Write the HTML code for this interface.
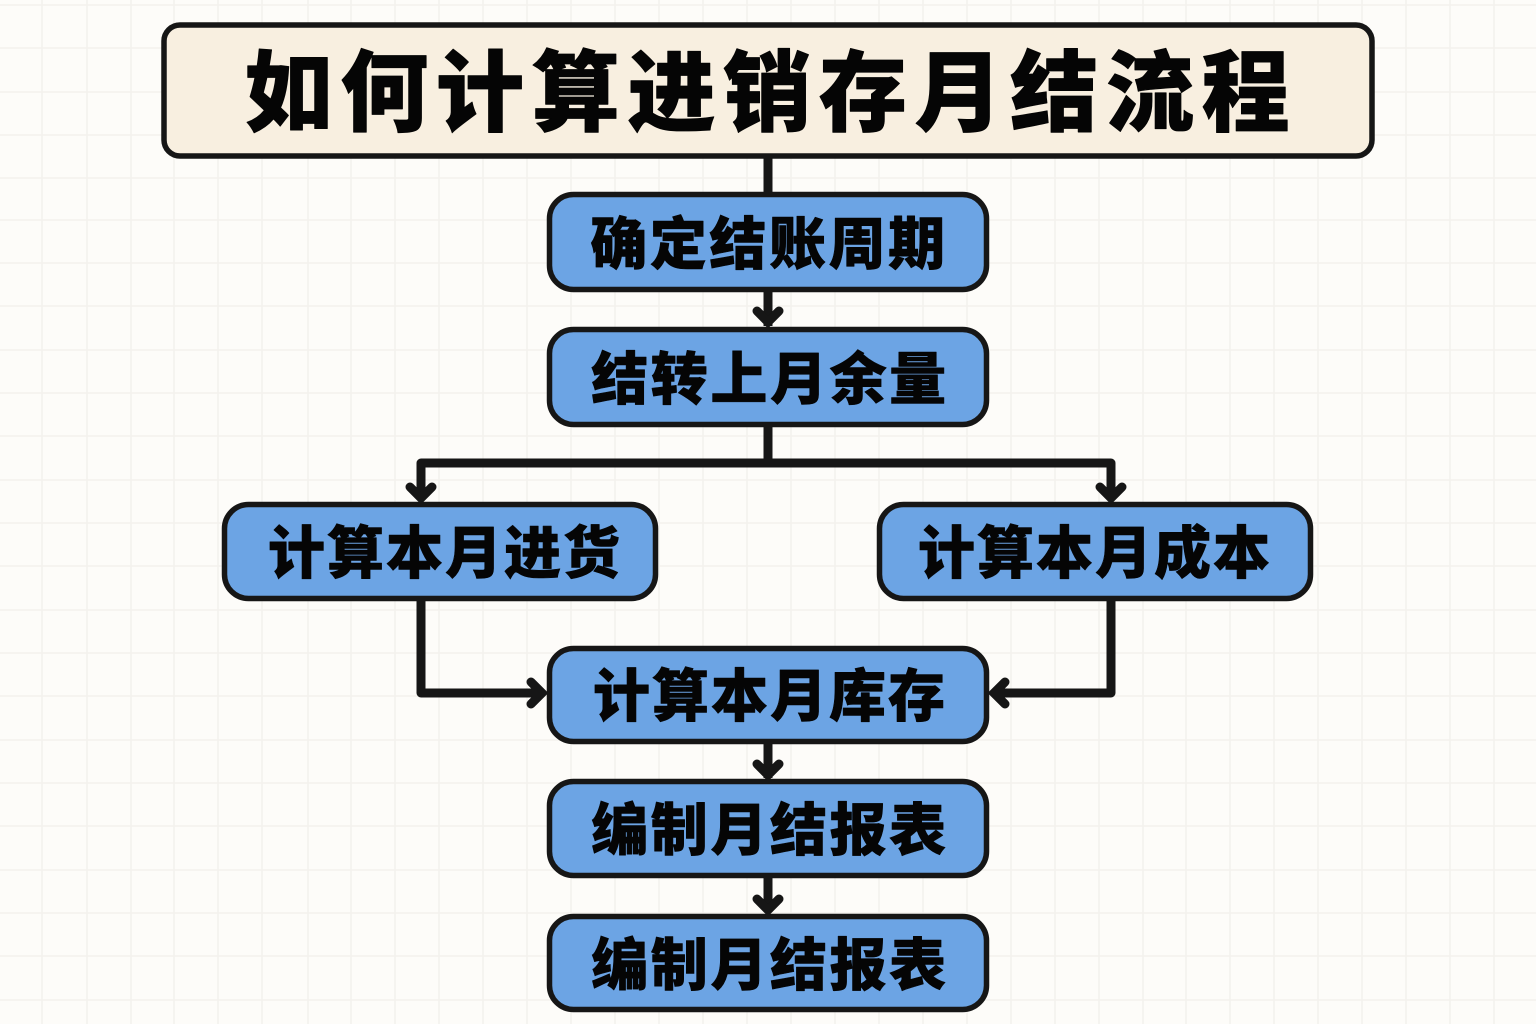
<!DOCTYPE html>
<html lang="zh"><head><meta charset="utf-8"><title>如何计算进销存月结流程</title>
<style>
html,body{margin:0;padding:0;width:1536px;height:1024px;overflow:hidden;background:#fdfcf9}
svg{display:block}
text{font-family:"Liberation Sans","Noto Sans CJK SC",sans-serif;font-weight:900;fill:#050505;stroke:#050505;stroke-linejoin:round}
.n{font-size:57px;letter-spacing:2.6px;stroke-width:.6px}
.s{letter-spacing:2px}
.t{font-size:88px;letter-spacing:7.7px;stroke-width:.8px}
.box{fill:#6ca4e4;stroke:#161616;stroke-width:5.5}
.c{fill:none;stroke:#161616;stroke-width:9;stroke-linejoin:round;stroke-linecap:butt}
.a{fill:none;stroke:#161616;stroke-width:9;stroke-linejoin:miter;stroke-linecap:round}
.g line{stroke:#f3f2ee;stroke-width:1.6}
</style></head><body>
<svg width="1536" height="1024" viewBox="0 0 1536 1024" xmlns="http://www.w3.org/2000/svg">
<rect width="1536" height="1024" fill="#fdfcf9"/>
<g class="g">
<line x1="42" y1="0" x2="42" y2="1024"/><line x1="87" y1="0" x2="87" y2="1024"/><line x1="131" y1="0" x2="131" y2="1024"/><line x1="174" y1="0" x2="174" y2="1024"/><line x1="218" y1="0" x2="218" y2="1024"/><line x1="262" y1="0" x2="262" y2="1024"/><line x1="308" y1="0" x2="308" y2="1024"/><line x1="351" y1="0" x2="351" y2="1024"/><line x1="395" y1="0" x2="395" y2="1024"/><line x1="439" y1="0" x2="439" y2="1024"/><line x1="483" y1="0" x2="483" y2="1024"/><line x1="527" y1="0" x2="527" y2="1024"/><line x1="571" y1="0" x2="571" y2="1024"/><line x1="615" y1="0" x2="615" y2="1024"/><line x1="659" y1="0" x2="659" y2="1024"/><line x1="703" y1="0" x2="703" y2="1024"/><line x1="747" y1="0" x2="747" y2="1024"/><line x1="791" y1="0" x2="791" y2="1024"/><line x1="835" y1="0" x2="835" y2="1024"/><line x1="879" y1="0" x2="879" y2="1024"/><line x1="923" y1="0" x2="923" y2="1024"/><line x1="967" y1="0" x2="967" y2="1024"/><line x1="1011" y1="0" x2="1011" y2="1024"/><line x1="1055" y1="0" x2="1055" y2="1024"/><line x1="1099" y1="0" x2="1099" y2="1024"/><line x1="1143" y1="0" x2="1143" y2="1024"/><line x1="1186" y1="0" x2="1186" y2="1024"/><line x1="1230" y1="0" x2="1230" y2="1024"/><line x1="1274" y1="0" x2="1274" y2="1024"/><line x1="1318" y1="0" x2="1318" y2="1024"/><line x1="1362" y1="0" x2="1362" y2="1024"/><line x1="1406" y1="0" x2="1406" y2="1024"/><line x1="1450" y1="0" x2="1450" y2="1024"/><line x1="1494" y1="0" x2="1494" y2="1024"/>
<line x1="0" y1="5" x2="1536" y2="5"/><line x1="0" y1="48" x2="1536" y2="48"/><line x1="0" y1="92" x2="1536" y2="92"/><line x1="0" y1="135" x2="1536" y2="135"/><line x1="0" y1="178" x2="1536" y2="178"/><line x1="0" y1="220" x2="1536" y2="220"/><line x1="0" y1="263" x2="1536" y2="263"/><line x1="0" y1="306" x2="1536" y2="306"/><line x1="0" y1="350" x2="1536" y2="350"/><line x1="0" y1="393" x2="1536" y2="393"/><line x1="0" y1="436" x2="1536" y2="436"/><line x1="0" y1="480" x2="1536" y2="480"/><line x1="0" y1="523" x2="1536" y2="523"/><line x1="0" y1="566" x2="1536" y2="566"/><line x1="0" y1="610" x2="1536" y2="610"/><line x1="0" y1="653" x2="1536" y2="653"/><line x1="0" y1="696" x2="1536" y2="696"/><line x1="0" y1="740" x2="1536" y2="740"/><line x1="0" y1="783" x2="1536" y2="783"/><line x1="0" y1="826" x2="1536" y2="826"/><line x1="0" y1="870" x2="1536" y2="870"/><line x1="0" y1="913" x2="1536" y2="913"/><line x1="0" y1="956" x2="1536" y2="956"/><line x1="0" y1="1000" x2="1536" y2="1000"/>
</g>
<path class="c" d="M768 156V194"/>
<path class="c" d="M768 290V326"/>
<path class="a" d="M757 311L768 322L779 311"/>
<path class="c" d="M768 425V463"/>
<path class="c" d="M421 500V463H1111V500"/>
<path class="a" d="M410 487L421 498L432 487"/>
<path class="a" d="M1100 487L1111 498L1122 487"/>
<path class="c" d="M421 598V693H544"/>
<path class="a" d="M531 682L542 693L531 704"/>
<path class="c" d="M1111 598V693H992"/>
<path class="a" d="M1005 682L994 693L1005 704"/>
<path class="c" d="M768 742V778"/>
<path class="a" d="M757 764L768 775L779 764"/>
<path class="c" d="M768 876V912"/>
<path class="a" d="M757 899L768 910L779 899"/>
<rect x="164" y="25" width="1208" height="131" rx="16" fill="#f8efe0" stroke="#161616" stroke-width="5.5"/>
<rect class="box" x="549.5" y="194.5" width="437" height="95" rx="24"/>
<rect class="box" x="549.5" y="329.5" width="437" height="95" rx="24"/>
<rect class="box" x="224.5" y="504.5" width="431" height="94" rx="24"/>
<rect class="box" x="879.5" y="504.5" width="431" height="94" rx="24"/>
<rect class="box" x="549.5" y="648.5" width="437" height="93" rx="24"/>
<rect class="box" x="549.5" y="781.5" width="437" height="94" rx="24"/>
<rect class="box" x="549.5" y="916.5" width="437" height="93" rx="24"/>
<text class="t" x="771" y="124" text-anchor="middle">如何计算进销存月结流程</text>
<text class="n" x="769" y="264" text-anchor="middle">确定结账周期</text>
<text class="n" x="770" y="399" text-anchor="middle">结转上月余量</text>
<text class="n s" x="445" y="573" text-anchor="middle">计算本月进货</text>
<text class="n s" x="1095" y="573" text-anchor="middle">计算本月成本</text>
<text class="n s" x="770" y="716" text-anchor="middle">计算本月库存</text>
<text class="n" x="770" y="850" text-anchor="middle">编制月结报表</text>
<text class="n" x="770" y="985" text-anchor="middle">编制月结报表</text>
</svg>
</body></html>
